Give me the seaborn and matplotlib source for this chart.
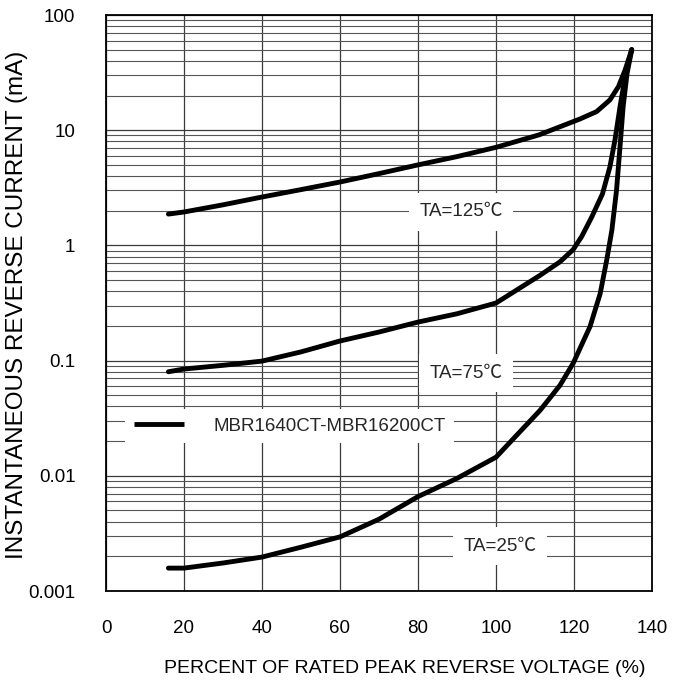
import numpy as np
import pandas as pd
import seaborn as sns
from matplotlib import pyplot as plt
from matplotlib.ticker import LogLocator, FixedLocator, NullFormatter

# curve readings (percent of rated voltage, reverse current in mA)
x_125 = [16, 20, 30, 40, 50, 60, 70, 80, 90, 100, 111, 121.5, 125.8, 129.2, 131.4, 133.1, 134.8]
i_125 = [1.87, 1.95, 2.25, 2.63, 3.05, 3.55, 4.2, 5.0, 5.9, 7.1, 9.1, 12.5, 14.5, 18.3, 23.9, 33.3, 50]

x_75 = [16, 20, 30, 40, 50, 60, 70, 80, 90, 100, 111.3, 116.4, 119.8, 122, 124.5, 127.3, 129.2, 130.5, 131.8, 133.1, 134.8]
i_75 = [0.080, 0.0845, 0.091, 0.099, 0.119, 0.148, 0.177, 0.216, 0.255, 0.316, 0.55, 0.72, 0.92, 1.2, 1.75, 2.8, 4.8, 8.2, 16, 29, 50]

x_25 = [16, 20, 30, 40, 50, 60, 70, 80, 90, 100, 111.3, 116.4, 119.8, 124.1, 126.7, 128.4, 129.7, 130.9, 131.8, 132.6, 133.6, 134.8]
i_25 = [0.00158, 0.00158, 0.00175, 0.00197, 0.0024, 0.00295, 0.0042, 0.0066, 0.0095, 0.0145, 0.037, 0.061, 0.095, 0.197, 0.38, 0.75, 1.35, 3.0, 7.2, 16, 31, 50]

temp_labels = ["TA=125\u2103", "TA=75\u2103", "TA=25\u2103"]
label_x = [91, 92.3, 101]
label_y = [1.95, 0.078, 0.00245]
series_name = "MBR1640CT-MBR16200CT"

sns.set_theme(style="white")
plt.rcParams['font.family'] = ['Liberation Sans', 'Noto Sans CJK SC', 'DejaVu Sans']

FS = 13.5

fig = plt.figure(figsize=(6.85, 6.81), dpi=100)
ax = fig.add_axes([106 / 685, 1 - 591 / 681, 546 / 685, 576 / 681])

curves = [(x_125, i_125), (x_75, i_75), (x_25, i_25)]
for k, (xs, ys) in enumerate(curves):
    df = pd.DataFrame({'x': xs, 'y': ys})
    sns.lineplot(data=df, x='x', y='y', ax=ax, color='black', lw=3.5,
                 estimator=None, sort=False, solid_capstyle='round',
                 solid_joinstyle='round',
                 label=series_name if k == 0 else None, zorder=4)

ax.set_yscale('log')
ax.set_xlim(0, 140)
ax.set_ylim(0.001, 100)

ax.xaxis.set_major_locator(FixedLocator(np.arange(0, 141, 20)))
ax.yaxis.set_minor_locator(LogLocator(base=10, subs=np.arange(2, 10), numticks=100))
ax.yaxis.set_minor_formatter(NullFormatter())
ax.set_yticks([0.001, 0.01, 0.1, 1, 10, 100])
ax.set_yticklabels(['0.001', '0.01', '0.1', '1', '10', '100'])

ax.grid(True, which='major', axis='both', color='#3a3a3a', lw=0.9)
ax.grid(True, which='minor', axis='y', color='#555555', lw=0.8)
ax.set_axisbelow(True)

ax.tick_params(axis='both', which='both', length=0, labelsize=FS, colors='black')
ax.tick_params(axis='x', pad=21)
ax.tick_params(axis='y', pad=22)

for s in ax.spines.values():
    s.set_color('black')
    s.set_linewidth(1.3)
    s.set_visible(True)

ax.set_xlabel("PERCENT OF RATED PEAK REVERSE VOLTAGE (%)", fontsize=14, color='black')
ax.set_ylabel("INSTANTANEOUS REVERSE CURRENT (mA)", fontsize=17.5, color='black')
ax.xaxis.set_label_coords(0.548, -0.12)
ax.yaxis.set_label_coords(-0.143, 0.497)

for t, lx, ly in zip(temp_labels, label_x, label_y):
    ax.text(lx, ly, t, fontsize=FS, ha='center', va='center', zorder=5,
            bbox=dict(boxstyle='square,pad=0.55', facecolor='white', edgecolor='none'))

leg = ax.legend(loc='upper left', bbox_to_anchor=(0.035, 0.316), borderaxespad=0,
                frameon=True, facecolor='white', edgecolor='none', framealpha=1,
                fancybox=False, fontsize=FS, handlelength=2.67, handletextpad=1.6,
                borderpad=0.45)
leg.set_zorder(6)
for h in leg.get_lines():
    h.set_linewidth(3.5)
    h.set_solid_capstyle('butt')

fig.savefig('out.png', dpi=100)
